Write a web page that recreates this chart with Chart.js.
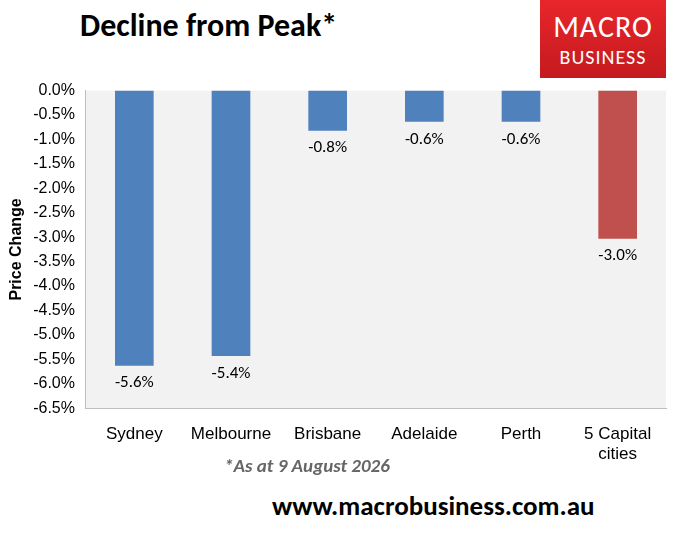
<!DOCTYPE html>
<html><head><meta charset="utf-8">
<script src="https://cdn.jsdelivr.net/npm/chart.js"></script>
<style>
body{margin:0;background:#fff;width:675px;height:535px;position:relative;font-family:Carlito,Calibri,'Liberation Sans',Arial,sans-serif;overflow:hidden}
#t{position:absolute;left:80px;top:6px;font-size:32px;font-weight:bold;color:#000}
#logo{position:absolute;left:540px;top:0;width:126px;height:78px;background:linear-gradient(#e8262b,#c41a1f);color:#fff;text-align:center}
#logo .a{font-size:30px;margin-top:8px;letter-spacing:1px}
#logo .b{font-size:20px;letter-spacing:1px}
#fn{position:absolute;left:224px;top:454px;font-size:19px;font-weight:bold;font-style:italic;color:#666}
#url{position:absolute;left:272px;top:489px;font-size:27px;font-weight:bold;color:#000}
#c{position:absolute;left:0;top:78px}
</style></head><body>
<div id="t">Decline from Peak*</div>
<div id="logo"><div class="a">MACRO</div><div class="b">BUSINESS</div></div>
<canvas id="c" width="675" height="395" style="width:675px;height:395px"></canvas>
<div id="fn">*As at 9 August 2026</div>
<div id="url">www.macrobusiness.com.au</div>
<script>
const categories=[["Sydney"],["Melbourne"],["Brisbane"],["Adelaide"],["Perth"],["5 Capital","cities"]];
const values=[-5.63,-5.43,-0.82,-0.64,-0.64,-3.03];
const labels=["-5.6%","-5.4%","-0.8%","-0.6%","-0.6%","-3.0%"];
const colors=["#4f81bd","#4f81bd","#4f81bd","#4f81bd","#4f81bd","#c0504d"];
const bg={id:'bg',beforeDraw(c){const a=c.chartArea,x=c.ctx;x.save();x.fillStyle='#f2f2f2';x.fillRect(a.left,a.top,a.right-a.left,a.bottom-a.top);x.restore();},
afterDatasetsDraw(c){const x=c.ctx;x.save();x.font='17px Carlito, Calibri, "Liberation Sans", Arial';x.fillStyle='#000';x.textAlign='center';x.textBaseline='top';
c.getDatasetMeta(0).data.forEach((b,i)=>x.fillText(labels[i],b.x,b.y+9));x.restore();}};
new Chart(document.getElementById('c'),{type:'bar',data:{labels:categories,datasets:[{data:values,backgroundColor:colors,barPercentage:0.4,categoryPercentage:1}]},
options:{responsive:false,animation:false,layout:{padding:{left:3,right:9,top:12}},plugins:{legend:{display:false},tooltip:{enabled:false}},
scales:{y:{min:-6.5,max:0,ticks:{stepSize:0.5,color:'#000',font:{size:16},callback:v=>v.toFixed(1)+'%'},grid:{display:false},border:{color:'#bfbfbf'},
title:{display:true,text:'Price Change',color:'#000',font:{size:16,weight:'bold'}}},
x:{position:'bottom',ticks:{color:'#000',font:{size:17},maxRotation:0,padding:8},grid:{display:false},border:{color:'#bfbfbf'}}}},plugins:[bg]});
</script></body></html>
